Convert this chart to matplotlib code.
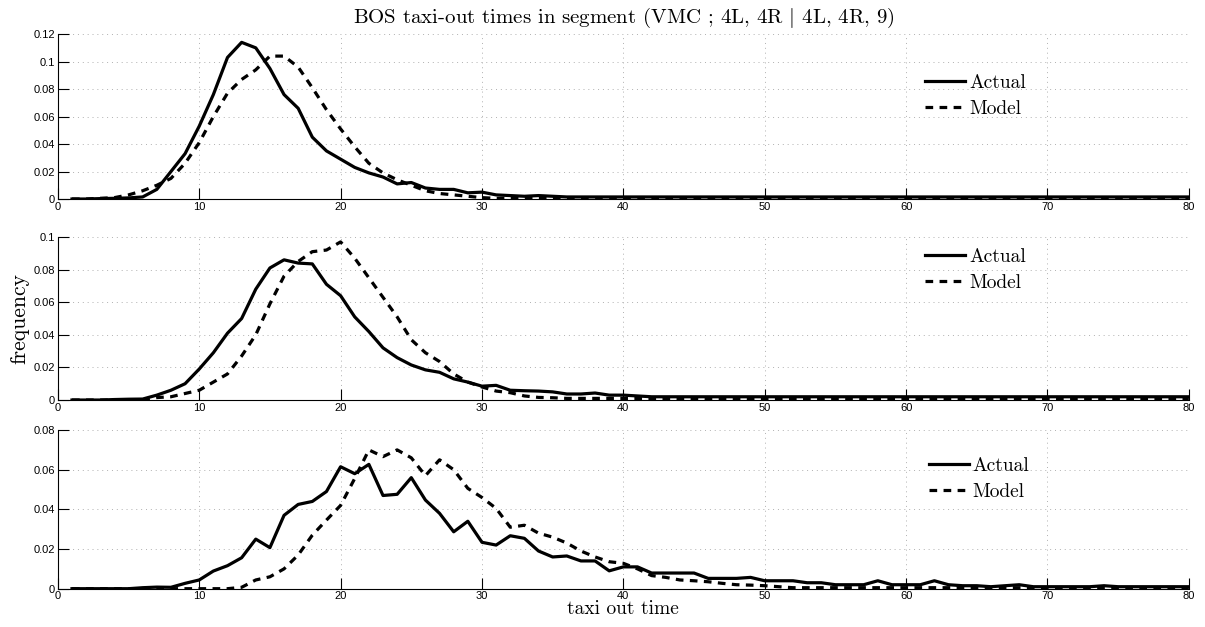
import numpy as np
import matplotlib
matplotlib.use("Agg")
import matplotlib.pyplot as plt
from matplotlib.ticker import FuncFormatter

plt.rcParams['mathtext.fontset'] = 'cm'

## Data: taxi-out time bins 1..80 (minutes)
x = np.arange(1, 81)

tail_small = [0.0015] * 45

# top panel
actual_1 = [0, 0, 0.0003, 0.0005, 0.0008, 0.0015, 0.007, 0.020, 0.033, 0.053,
            0.076, 0.103, 0.114, 0.110, 0.095, 0.076, 0.066, 0.045, 0.035, 0.029,
            0.023, 0.019, 0.016, 0.011, 0.012, 0.008, 0.007, 0.007, 0.0045, 0.005,
            0.003, 0.0025, 0.002, 0.0025, 0.002] + tail_small
model_1 = [0, 0, 0.0005, 0.001, 0.003, 0.006, 0.010, 0.015, 0.026, 0.041,
           0.060, 0.077, 0.087, 0.094, 0.104, 0.104, 0.096, 0.081, 0.065, 0.051,
           0.038, 0.026, 0.019, 0.014, 0.010, 0.006, 0.004, 0.003, 0.002, 0.001] \
          + [0.0005] * 20 + [0.0002] * 30

# middle panel
actual_2 = [0, 0, 0, 0.0003, 0.0005, 0.0006, 0.003, 0.006, 0.010, 0.019,
            0.029, 0.041, 0.050, 0.068, 0.081, 0.086, 0.084, 0.0835, 0.071, 0.064,
            0.051, 0.042, 0.032, 0.026, 0.0215, 0.0185, 0.017, 0.013, 0.011, 0.0085,
            0.009, 0.006, 0.0057, 0.0055, 0.005, 0.0037, 0.0037, 0.0043, 0.003, 0.003,
            0.0025] + [0.002] * 39
model_2 = [0, 0, 0, 0, 0, 0, 0.0015, 0.002, 0.004, 0.006,
           0.011, 0.016, 0.027, 0.040, 0.059, 0.076, 0.085, 0.091, 0.092, 0.097,
           0.087, 0.075, 0.063, 0.051, 0.037, 0.029, 0.0236, 0.016, 0.011, 0.008,
           0.0055, 0.0045, 0.0025, 0.0016, 0.0014] + [0.001] * 10 + [0.0005] * 35

# bottom panel
actual_3 = [0, 0, 0, 0, 0, 0.0005, 0.0008, 0.0007, 0.0027, 0.0044,
            0.0089, 0.0116, 0.0156, 0.025, 0.0207, 0.037, 0.0425, 0.044, 0.049, 0.0615,
            0.058, 0.0627, 0.047, 0.0476, 0.056, 0.0447, 0.038, 0.0287, 0.034, 0.0234,
            0.022, 0.0267, 0.0254, 0.019, 0.016, 0.0165, 0.014, 0.014, 0.009, 0.011,
            0.011, 0.0079, 0.0079, 0.0079, 0.0079, 0.0052, 0.0052, 0.0052, 0.0057, 0.004,
            0.004, 0.004, 0.003, 0.003, 0.002, 0.002, 0.002, 0.004, 0.002, 0.002,
            0.002, 0.004, 0.002, 0.0015, 0.0015, 0.001, 0.0015, 0.002, 0.001, 0.001,
            0.001, 0.001, 0.001, 0.0015, 0.001, 0.001, 0.001, 0.001, 0.001, 0.001]
model_3 = [0, 0, 0, 0, 0, 0, 0, 0, 0, 0,
           0, 0, 0.0007, 0.0044, 0.006, 0.010, 0.017, 0.027, 0.0346, 0.042,
           0.0556, 0.070, 0.0666, 0.070, 0.066, 0.057, 0.065, 0.060, 0.0506, 0.046,
           0.0405, 0.031, 0.032, 0.028, 0.026, 0.023, 0.019, 0.016, 0.0136, 0.0128,
           0.010, 0.0066, 0.0057, 0.0044, 0.004, 0.0035, 0.0027, 0.002, 0.0018, 0.0015,
           0.001] + [0.0005] * 29

panels = [(actual_1, model_1, 0.12, [0, 0.02, 0.04, 0.06, 0.08, 0.1, 0.12]),
          (actual_2, model_2, 0.1, [0, 0.02, 0.04, 0.06, 0.08, 0.1]),
          (actual_3, model_3, 0.08, [0, 0.02, 0.04, 0.06, 0.08])]

# axes placement (figure fractions) and legend centre (axes fractions)
boxes = [(0.048, 0.6826, 0.9386, 0.263),
         (0.048, 0.362, 0.9386, 0.260),
         (0.048, 0.0611, 0.9386, 0.253)]
leg_pos = [(0.767, 0.625), (0.767, 0.80), (0.770, 0.694)]

serif = ['cmr10', 'DejaVu Serif']
tick_font = 'Liberation Sans'

fig = plt.figure(figsize=(12.05, 6.27), dpi=100)

for k, (act, mod, ytop, yt) in enumerate(panels):
    ax = fig.add_axes(boxes[k])
    ax.plot(x, act, color='k', lw=2.3, label='Actual')
    ax.plot(x, mod, color='k', lw=2.3, linestyle=(0, (2.4, 2.0)), label='Model')
    ax.set_xlim(0, 80)
    ax.set_ylim(0, ytop)
    ax.set_xticks(np.arange(0, 81, 10))
    ax.set_yticks(yt)
    ax.yaxis.set_major_formatter(FuncFormatter(lambda v, p: '%g' % v))
    ax.tick_params(direction='in', length=8, width=0.8, labelsize=8, pad=2)
    for lab in ax.get_xticklabels() + ax.get_yticklabels():
        lab.set_family(tick_font)
    ax.spines['top'].set_visible(False)
    ax.spines['right'].set_visible(False)
    ax.spines['left'].set_linewidth(0.8)
    ax.spines['bottom'].set_linewidth(0.8)
    ax.grid(True, color='#b0b0b0', linestyle=(0, (1, 4)), linewidth=0.7)
    leg = ax.legend(loc='center left', bbox_to_anchor=leg_pos[k], frameon=False,
                    handlelength=2.05, handletextpad=0.2, labelspacing=0.42,
                    borderpad=0, borderaxespad=0, prop={'family': serif, 'size': 14})

    if k == 0:
        ax.set_title('BOS taxi-out times in segment (VMC ; 4L, 4R $|$ 4L, 4R, 9)',
                     family=serif, fontsize=15, pad=8)
    if k == 1:
        ax.set_ylabel('frequency', family=serif, fontsize=15.5, labelpad=3)
    if k == 2:
        ax.set_xlabel('taxi out time', family=serif, fontsize=14, labelpad=-1)

fig.savefig('out.png', dpi=100)
